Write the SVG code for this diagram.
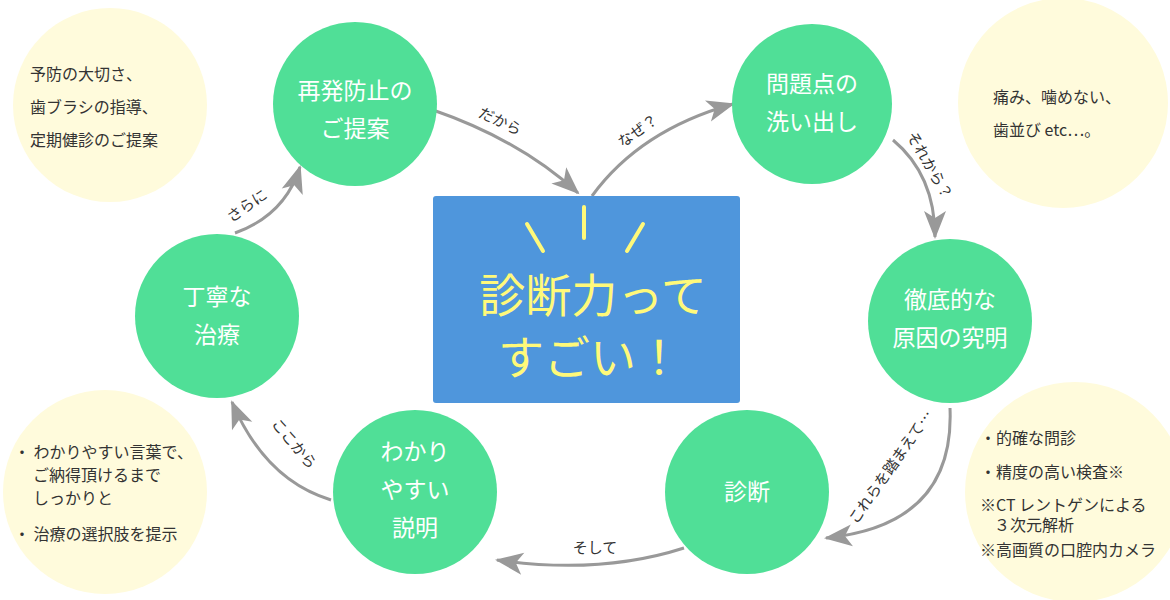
<svg xmlns="http://www.w3.org/2000/svg" width="1170" height="600" viewBox="0 0 1170 600">
<style>
.n{fill:#50df97}.y{fill:#fffbdc}
.t{font-family:"Noto Sans CJK JP","Noto Sans",sans-serif;fill:#fff;font-size:23px;text-anchor:middle}
.s{font-family:"Noto Sans CJK JP","Noto Sans",sans-serif;fill:#333;font-size:16px}
.l{font-family:"Noto Sans CJK JP","Noto Sans",sans-serif;fill:#333;font-size:15px;text-anchor:middle}
.c{fill:none;stroke:#999;stroke-width:3;marker-end:url(#a)}
</style>
<defs><marker id="a" viewBox="-20 -12 32 24" refX="8" refY="0" markerWidth="32" markerHeight="24" markerUnits="userSpaceOnUse" orient="auto"><path d="M-18,-11 L10,0 L-18,11 L-11,0 Z" fill="#999"/></marker></defs>
<rect width="1170" height="600" fill="#fff"/>
<g id="notes">
<circle class="y" cx="110" cy="105" r="97"/>
<circle class="y" cx="1063" cy="103" r="105"/>
<circle class="y" cx="1075" cy="492" r="110"/>
<circle class="y" cx="105" cy="492" r="102"/>
<text class="s" x="30" y="80">予防の大切さ、</text>
<text class="s" x="30" y="113">歯ブラシの指導、</text>
<text class="s" x="30" y="146">定期健診のご提案</text>
<text class="s" x="993" y="103">痛み、噛めない、</text>
<text class="s" x="993" y="136">歯並び etc…。</text>
<text class="s" x="980" y="444">・的確な問診</text>
<text class="s" x="980" y="478">・精度の高い検査※</text>
<text class="s" x="980" y="511" font-size="12.5">※CT レントゲンによる</text>
<text class="s" x="994" y="531" font-size="12.5">３次元解析</text>
<text class="s" x="980" y="556" font-size="12.5">※高画質の口腔内カメラ</text>
<text class="s" x="14" y="458">・ わかりやすい言葉で、</text>
<text class="s" x="33" y="481">ご納得頂けるまで</text>
<text class="s" x="33" y="504">しっかりと</text>
<text class="s" x="14" y="540">・ 治療の選択肢を提示</text>
</g>
<g id="connectors">
<path class="c" d="M433,110 Q520,140 578,193"/>
<path class="c" d="M592,196 Q640,130 733,104"/>
<path class="c" d="M893,140 Q935,175 935,237"/>
<path class="c" d="M950,408 Q955,525 826,538"/>
<path class="c" d="M684,548 Q600,575 497,560"/>
<path class="c" d="M331,500 Q265,480 232,402"/>
<path class="c" d="M235,233 Q285,215 300,167"/>
<text class="l" transform="translate(498,126) rotate(25)">だから</text>
<text class="l" transform="translate(641,135) rotate(-35)">なぜ？</text>
<text class="l" transform="translate(925,168) rotate(60)">それから？</text>
<text class="l" transform="translate(895,470) rotate(-55)">これらを踏まえて…</text>
<text class="l" transform="translate(595,553)">そして</text>
<text class="l" transform="translate(290,447) rotate(50)">ここから</text>
<text class="l" transform="translate(250,210) rotate(-35)">さらに</text>
</g>
<g id="center">
<rect x="433" y="196" width="307" height="207" rx="3" fill="#4f96dc"/>
<g stroke="#fff97a" stroke-width="4" stroke-linecap="round"><line x1="527" y1="224" x2="543" y2="251"/><line x1="584" y1="207" x2="584" y2="238"/><line x1="643" y1="224" x2="627" y2="251"/></g>
<text x="593" y="312" font-family="'Noto Sans CJK JP',sans-serif" font-size="46" fill="#fff97a" text-anchor="middle">診断力って</text>
<text x="590" y="374" font-family="'Noto Sans CJK JP',sans-serif" font-size="46" fill="#fff97a" text-anchor="middle">すごい！</text>
</g>
<g id="n1"><circle class="n" cx="355" cy="104" r="82"/><text class="t" x="355" y="99">再発防止の</text><text class="t" x="355" y="137">ご提案</text></g>
<g id="n2"><circle class="n" cx="812" cy="104" r="80"/><text class="t" x="812" y="92">問題点の</text><text class="t" x="812" y="130">洗い出し</text></g>
<g id="n3"><circle class="n" cx="950" cy="321" r="82"/><text class="t" x="950" y="308">徹底的な</text><text class="t" x="950" y="346">原因の究明</text></g>
<g id="n4"><circle class="n" cx="747" cy="492" r="82"/><text class="t" x="747" y="500">診断</text></g>
<g id="n5"><circle class="n" cx="415" cy="492" r="82"/><text class="t" x="415" y="460">わかり</text><text class="t" x="415" y="498">やすい</text><text class="t" x="415" y="536">説明</text></g>
<g id="n6"><circle class="n" cx="217" cy="316" r="82"/><text class="t" x="217" y="305">丁寧な</text><text class="t" x="217" y="343">治療</text></g>
</svg>
